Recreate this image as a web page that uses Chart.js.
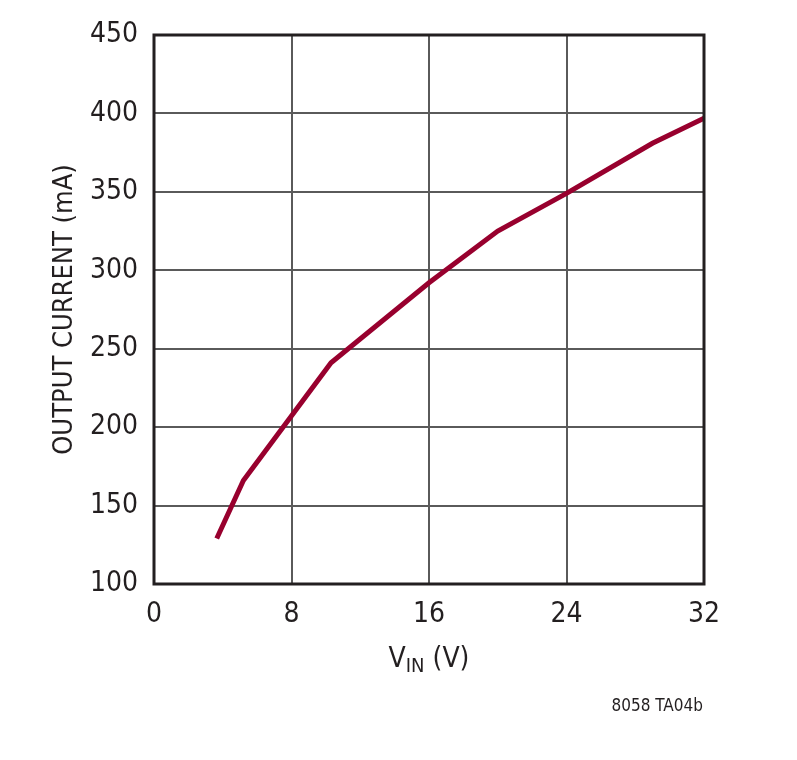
<!DOCTYPE html>
<html>
<head>
<meta charset="utf-8">
<script src="https://cdn.jsdelivr.net/npm/chart.js@4.4.1/dist/chart.umd.min.js"></script>
<style>
  body { margin: 0; background: #fff; }
  #wrap { width: 797px; height: 760px; position: relative; }
</style>
</head>
<body>
<div id="wrap"><canvas id="chart"></canvas></div>
<script>
var vinValues = [3.65, 5.2, 10.3, 16, 20, 24, 29, 32]
var currentValues = [129, 166, 241, 292, 325, 349, 381, 397]
var xTicks = [0, 8, 16, 24, 32]
var yTicks = [100, 150, 200, 250, 300, 350, 400, 450]

var fontName = "'Liberation Sans Narrow', 'DejaVu Sans Condensed', sans-serif"

// frame + axis titles + figure code
var extras = {
    id: 'extras',
    afterDraw(chart) {
        var ctx = chart.ctx
        var a = chart.chartArea
        ctx.save()
        ctx.strokeStyle = '#231f20'
        ctx.lineWidth = 3
        ctx.strokeRect(a.left, a.top, a.right - a.left, a.bottom - a.top)

        ctx.fillStyle = '#231f20'
        ctx.textBaseline = 'alphabetic'

        // x title: V with IN subscript
        var cx = (a.left + a.right) / 2
        ctx.font = '28px ' + fontName
        var w1 = ctx.measureText('V').width
        var w3 = ctx.measureText(' (V)').width
        ctx.font = '20px ' + fontName
        var w2 = ctx.measureText('IN').width
        var x0 = cx - (w1 + w2 + w3) / 2
        var base = 667
        ctx.font = '28px ' + fontName
        ctx.textAlign = 'left'
        ctx.fillText('V', x0, base)
        ctx.font = '20px ' + fontName
        ctx.fillText('IN', x0 + w1, base + 5)
        ctx.font = '28px ' + fontName
        ctx.fillText(' (V)', x0 + w1 + w2, base)

        // y title
        ctx.save()
        ctx.translate(72, (a.top + a.bottom) / 2)
        ctx.rotate(-Math.PI / 2)
        ctx.textAlign = 'center'
        ctx.font = '27px ' + fontName
        ctx.fillText('OUTPUT CURRENT (mA)', 0, 0)
        ctx.restore()

        // figure code
        ctx.font = '17px ' + fontName
        ctx.textAlign = 'right'
        ctx.fillText('8058 TA04b', 703, 711)
        ctx.restore()
    }
}

var ctx = document.getElementById('chart').getContext('2d')
var myChart = new Chart(ctx, {
    type: 'line',
    data: {
        datasets: [{
            data: vinValues.map((v, i) => ({ x: v, y: currentValues[i] })),
            borderColor: '#98002e',
            borderWidth: 5,
            pointRadius: 0,
            tension: 0,
            fill: false
        }]
    },
    options: {
        responsive: true,
        maintainAspectRatio: false,
        animation: false,
        layout: { padding: { left: 0, top: 35, right: 93, bottom: 0 } },
        plugins: { legend: { display: false }, tooltip: { enabled: false } },
        scales: {
            x: {
                type: 'linear',
                min: 0,
                max: 32,
                afterBuildTicks: s => { s.ticks = xTicks.map(v => ({ value: v })) },
                afterFit: s => { s.height = 176 },
                grid: { color: '#5a5a5a', lineWidth: 2, drawTicks: false },
                border: { display: false },
                ticks: {
                    color: '#231f20',
                    padding: 14,
                    font: { family: fontName, size: 28 }
                }
            },
            y: {
                min: 100,
                max: 450,
                afterBuildTicks: s => { s.ticks = yTicks.map(v => ({ value: v })) },
                afterFit: s => { s.width = 154 },
                grid: { color: '#5a5a5a', lineWidth: 2, drawTicks: false },
                border: { display: false },
                ticks: {
                    color: '#231f20',
                    padding: 16,
                    font: { family: fontName, size: 28 }
                }
            }
        }
    },
    plugins: [extras]
})
</script>
</body>
</html>
